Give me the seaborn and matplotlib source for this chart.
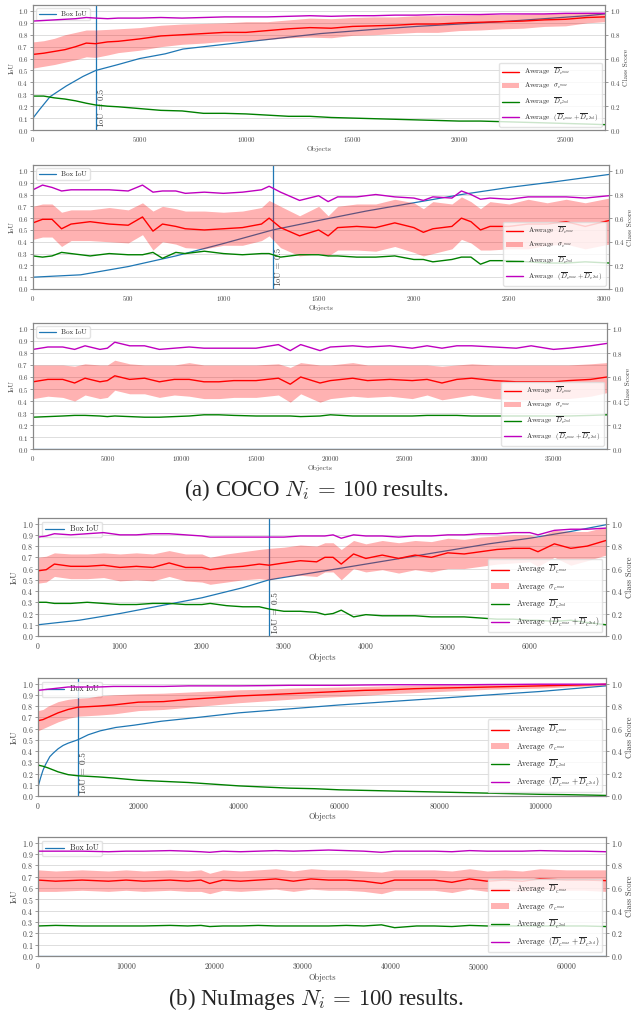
import numpy as np
import matplotlib
matplotlib.use("Agg")
import matplotlib.pyplot as plt
from matplotlib.lines import Line2D
from matplotlib.patches import Patch
import seaborn as sns

# ---- COCO, panel 1 ----
p1_box_x = [0, 300, 800, 1565, 2347, 2943, 4000, 5000, 6210, 7040, 10000, 13500, 16000, 18000, 20000, 22000, 24000, 26000, 26850]
p1_box = [0.10, 0.17, 0.28, 0.37, 0.45, 0.50, 0.55, 0.60, 0.64, 0.68, 0.74, 0.81, 0.845, 0.87, 0.89, 0.91, 0.935, 0.96, 0.975]
p1_x = [0, 500, 1000, 1500, 2000, 2500, 2943, 3500, 4000, 5000, 6000, 7000, 8000, 9000, 10000, 11000, 12000, 13000,
        14000, 15000, 16000, 17000, 18000, 19000, 20000, 21000, 22000, 23000, 24000, 25000, 26000, 26850]
p1_mean = [0.635, 0.645, 0.66, 0.675, 0.70, 0.73, 0.725, 0.74, 0.745, 0.765, 0.79, 0.80, 0.81, 0.82, 0.82, 0.835, 0.85, 0.86,
           0.855, 0.87, 0.875, 0.88, 0.89, 0.89, 0.90, 0.905, 0.91, 0.915, 0.925, 0.93, 0.945, 0.95]
p1_hi = [0.74, 0.75, 0.77, 0.80, 0.82, 0.84, 0.84, 0.845, 0.85, 0.86, 0.88, 0.89, 0.895, 0.90, 0.91, 0.91, 0.925, 0.94,
         0.935, 0.945, 0.95, 0.95, 0.96, 0.96, 0.965, 0.97, 0.97, 0.975, 0.98, 0.985, 0.99, 0.99]
p1_lo = [0.52, 0.535, 0.55, 0.57, 0.59, 0.615, 0.61, 0.63, 0.65, 0.67, 0.70, 0.72, 0.73, 0.745, 0.75, 0.76, 0.775, 0.78,
         0.775, 0.795, 0.80, 0.81, 0.82, 0.82, 0.835, 0.84, 0.85, 0.855, 0.87, 0.875, 0.90, 0.91]
p1_second = [0.285, 0.285, 0.27, 0.26, 0.245, 0.225, 0.21, 0.20, 0.195, 0.18, 0.165, 0.16, 0.14, 0.14, 0.135, 0.125, 0.115, 0.115,
             0.105, 0.10, 0.095, 0.09, 0.085, 0.08, 0.075, 0.075, 0.07, 0.065, 0.06, 0.055, 0.05, 0.045]
p1_sum = [0.915, 0.92, 0.925, 0.93, 0.935, 0.945, 0.94, 0.935, 0.94, 0.94, 0.945, 0.94, 0.945, 0.95, 0.95, 0.95, 0.955, 0.96,
          0.955, 0.96, 0.96, 0.965, 0.965, 0.97, 0.97, 0.97, 0.975, 0.975, 0.975, 0.98, 0.98, 0.98]

# ---- COCO, panel 2 ----
p2_box_x = [0, 250, 500, 750, 1000, 1259, 1500, 1750, 2000, 2250, 2500, 2750, 3025]
p2_box = [0.10, 0.12, 0.19, 0.28, 0.385, 0.50, 0.58, 0.66, 0.73, 0.80, 0.86, 0.91, 0.97]
p2_x = [0, 50, 100, 150, 200, 300, 400, 500, 575, 630, 680, 750, 800, 900, 1000, 1100, 1200, 1240, 1300, 1400,
        1500, 1550, 1600, 1700, 1800, 1900, 2000, 2050, 2100, 2200, 2250, 2300, 2350, 2400, 2500, 2600, 2700, 2800, 2900, 3025]
p2_mean = [0.56, 0.59, 0.59, 0.51, 0.55, 0.57, 0.55, 0.54, 0.61, 0.49, 0.55, 0.53, 0.51, 0.50, 0.51, 0.52, 0.55, 0.60, 0.52, 0.45,
           0.50, 0.45, 0.52, 0.53, 0.52, 0.56, 0.52, 0.48, 0.51, 0.53, 0.60, 0.57, 0.50, 0.53, 0.53, 0.55, 0.55, 0.57, 0.53, 0.58]
p2_hi = [0.70, 0.72, 0.72, 0.65, 0.67, 0.67, 0.69, 0.67, 0.73, 0.66, 0.70, 0.68, 0.66, 0.66, 0.65, 0.66, 0.69, 0.75, 0.70, 0.62,
         0.70, 0.62, 0.70, 0.72, 0.72, 0.76, 0.73, 0.68, 0.74, 0.72, 0.78, 0.74, 0.68, 0.74, 0.72, 0.76, 0.73, 0.76, 0.73, 0.77]
p2_lo = [0.42, 0.44, 0.44, 0.36, 0.41, 0.41, 0.40, 0.39, 0.46, 0.33, 0.40, 0.38, 0.35, 0.34, 0.37, 0.37, 0.41, 0.45, 0.35, 0.28,
         0.30, 0.28, 0.33, 0.33, 0.32, 0.36, 0.31, 0.28, 0.30, 0.34, 0.42, 0.39, 0.33, 0.33, 0.34, 0.34, 0.37, 0.38, 0.34, 0.38]
p2_second = [0.28, 0.27, 0.28, 0.31, 0.30, 0.28, 0.30, 0.29, 0.29, 0.31, 0.26, 0.31, 0.30, 0.32, 0.30, 0.29, 0.30, 0.30, 0.27, 0.29,
             0.29, 0.28, 0.28, 0.27, 0.27, 0.28, 0.25, 0.25, 0.23, 0.25, 0.27, 0.27, 0.21, 0.24, 0.24, 0.23, 0.22, 0.22, 0.23, 0.22]
p2_sum = [0.84, 0.88, 0.86, 0.83, 0.84, 0.84, 0.84, 0.83, 0.88, 0.82, 0.83, 0.83, 0.81, 0.82, 0.81, 0.82, 0.84, 0.87, 0.82, 0.75,
          0.79, 0.74, 0.78, 0.78, 0.80, 0.78, 0.77, 0.75, 0.78, 0.77, 0.83, 0.80, 0.76, 0.77, 0.76, 0.78, 0.78, 0.78, 0.77, 0.79]

# ---- COCO, panel 3 ----
p3_box_x = [0, 38600]
p3_box = [0.0, 0.0]
p3_x = [0, 1000, 2000, 2800, 3500, 4500, 5000, 5500, 6500, 7500, 8500, 9500, 10500, 11500, 12500, 13500, 15000, 16500, 17300,
        18000, 19300, 20000, 21500, 22500, 24000, 25500, 26500, 27500, 28500, 29500, 31000, 32500, 33500, 35000, 36000, 37500, 38600]
p3_mean = [0.56, 0.58, 0.58, 0.55, 0.59, 0.56, 0.57, 0.61, 0.58, 0.59, 0.56, 0.58, 0.58, 0.56, 0.56, 0.57, 0.57, 0.59, 0.54,
           0.60, 0.55, 0.57, 0.59, 0.57, 0.58, 0.57, 0.58, 0.55, 0.58, 0.59, 0.57, 0.56, 0.56, 0.56, 0.57, 0.58, 0.60]
p3_hi = [0.70, 0.70, 0.70, 0.69, 0.71, 0.70, 0.70, 0.74, 0.71, 0.70, 0.70, 0.70, 0.72, 0.70, 0.70, 0.70, 0.70, 0.71, 0.68,
         0.72, 0.70, 0.70, 0.72, 0.70, 0.70, 0.70, 0.70, 0.69, 0.70, 0.71, 0.70, 0.70, 0.70, 0.70, 0.70, 0.71, 0.72]
p3_lo = [0.42, 0.44, 0.43, 0.40, 0.45, 0.42, 0.43, 0.49, 0.46, 0.46, 0.43, 0.45, 0.44, 0.42, 0.42, 0.43, 0.43, 0.45, 0.39,
         0.46, 0.39, 0.42, 0.44, 0.43, 0.44, 0.42, 0.45, 0.41, 0.43, 0.45, 0.42, 0.41, 0.41, 0.42, 0.42, 0.44, 0.47]
p3_second = [0.265, 0.27, 0.275, 0.28, 0.28, 0.275, 0.27, 0.275, 0.27, 0.265, 0.265, 0.27, 0.275, 0.285, 0.285, 0.28, 0.275, 0.275, 0.275,
             0.27, 0.275, 0.285, 0.275, 0.275, 0.275, 0.275, 0.28, 0.28, 0.28, 0.275, 0.275, 0.275, 0.275, 0.275, 0.275, 0.28, 0.285]
p3_sum = [0.83, 0.85, 0.85, 0.83, 0.86, 0.83, 0.84, 0.89, 0.86, 0.86, 0.83, 0.84, 0.85, 0.84, 0.84, 0.84, 0.84, 0.87, 0.82,
          0.87, 0.82, 0.85, 0.86, 0.85, 0.86, 0.84, 0.86, 0.84, 0.86, 0.86, 0.85, 0.84, 0.86, 0.83, 0.84, 0.86, 0.88]

# ---- NuImages, panel 4 ----
p4_box_x = [0, 500, 1000, 1500, 2000, 2500, 2820, 3500, 4000, 4500, 5000, 5500, 6000, 6500, 6930]
p4_box = [0.10, 0.14, 0.20, 0.27, 0.34, 0.43, 0.50, 0.58, 0.64, 0.70, 0.76, 0.82, 0.87, 0.93, 0.99]
p4_x = [0, 100, 200, 400, 600, 800, 1000, 1200, 1400, 1600, 1800, 2000, 2100, 2300, 2500, 2700, 2820, 3000, 3200, 3400,
        3500, 3600, 3700, 3850, 4000, 4200, 4400, 4600, 4800, 5000, 5200, 5400, 5600, 5800, 6000, 6100, 6300, 6500, 6700, 6930]
p4_mean = [0.58, 0.59, 0.64, 0.62, 0.62, 0.63, 0.61, 0.62, 0.61, 0.65, 0.61, 0.61, 0.59, 0.61, 0.62, 0.64, 0.63, 0.65, 0.67, 0.66,
           0.70, 0.70, 0.64, 0.73, 0.69, 0.72, 0.69, 0.72, 0.70, 0.74, 0.73, 0.75, 0.77, 0.78, 0.78, 0.75, 0.82, 0.78, 0.80, 0.85]
p4_hi = [0.70, 0.71, 0.74, 0.73, 0.73, 0.74, 0.73, 0.74, 0.73, 0.76, 0.73, 0.73, 0.70, 0.73, 0.75, 0.77, 0.78, 0.79, 0.81, 0.80,
         0.83, 0.83, 0.77, 0.85, 0.82, 0.85, 0.83, 0.85, 0.84, 0.87, 0.86, 0.88, 0.89, 0.90, 0.90, 0.88, 0.94, 0.93, 0.93, 0.97]
p4_lo = [0.47, 0.48, 0.53, 0.51, 0.51, 0.52, 0.49, 0.50, 0.49, 0.53, 0.49, 0.48, 0.46, 0.48, 0.50, 0.51, 0.50, 0.53, 0.54, 0.53,
         0.57, 0.57, 0.50, 0.60, 0.57, 0.59, 0.56, 0.59, 0.57, 0.60, 0.60, 0.62, 0.64, 0.65, 0.66, 0.62, 0.70, 0.63, 0.67, 0.72]
p4_second = [0.30, 0.30, 0.29, 0.29, 0.30, 0.29, 0.28, 0.28, 0.29, 0.29, 0.28, 0.28, 0.29, 0.27, 0.26, 0.26, 0.24, 0.22, 0.22, 0.21,
             0.19, 0.20, 0.23, 0.17, 0.19, 0.18, 0.18, 0.18, 0.17, 0.17, 0.17, 0.16, 0.15, 0.15, 0.14, 0.14, 0.13, 0.14, 0.12, 0.10]
p4_sum = [0.88, 0.89, 0.91, 0.90, 0.91, 0.92, 0.90, 0.90, 0.91, 0.91, 0.90, 0.89, 0.88, 0.88, 0.88, 0.88, 0.88, 0.88, 0.89, 0.89,
          0.89, 0.90, 0.87, 0.90, 0.89, 0.89, 0.88, 0.89, 0.89, 0.90, 0.90, 0.91, 0.91, 0.92, 0.92, 0.90, 0.94, 0.95, 0.95, 0.96]

# ---- NuImages, panel 5 ----
p5_box_x = [0, 250, 500, 1000, 1500, 2350, 3000, 4000, 5000, 6000, 7920, 10000, 12400, 15500, 19100, 24500,
            32000, 40000, 50000, 60000, 70000, 80000, 90000, 100000, 113100]
p5_box = [0.08, 0.12, 0.16, 0.23, 0.28, 0.35, 0.38, 0.42, 0.45, 0.47, 0.50, 0.545, 0.58, 0.61, 0.63, 0.665,
          0.70, 0.74, 0.775, 0.81, 0.84, 0.87, 0.90, 0.93, 0.98]
p5_x = [0, 1000, 2000, 4000, 6000, 7920, 10000, 12000, 15000, 20000, 25000, 30000, 35000, 40000, 45000, 50000, 55000,
        60000, 65000, 70000, 75000, 80000, 85000, 90000, 95000, 100000, 105000, 110000, 113100]
p5_mean = [0.67, 0.68, 0.70, 0.74, 0.77, 0.79, 0.795, 0.80, 0.81, 0.835, 0.84, 0.86, 0.875, 0.89, 0.90, 0.91, 0.92,
           0.93, 0.94, 0.945, 0.955, 0.96, 0.965, 0.97, 0.975, 0.98, 0.985, 0.99, 0.995]
p5_hi = [0.76, 0.77, 0.80, 0.84, 0.86, 0.87, 0.875, 0.89, 0.90, 0.91, 0.915, 0.925, 0.935, 0.945, 0.95, 0.96, 0.965,
         0.97, 0.975, 0.98, 0.985, 0.99, 0.99, 0.995, 0.995, 1.0, 1.0, 1.0, 1.0]
p5_lo = [0.58, 0.60, 0.62, 0.66, 0.69, 0.71, 0.715, 0.72, 0.73, 0.76, 0.77, 0.79, 0.81, 0.83, 0.845, 0.86, 0.875,
         0.885, 0.895, 0.91, 0.92, 0.93, 0.94, 0.95, 0.955, 0.96, 0.97, 0.98, 0.985]
p5_second = [0.275, 0.265, 0.25, 0.215, 0.19, 0.18, 0.175, 0.17, 0.16, 0.14, 0.13, 0.12, 0.105, 0.09, 0.08, 0.07, 0.065,
             0.055, 0.05, 0.045, 0.04, 0.035, 0.03, 0.025, 0.02, 0.015, 0.012, 0.008, 0.005]
p5_sum = [0.94, 0.945, 0.95, 0.96, 0.97, 0.97, 0.97, 0.97, 0.975, 0.975, 0.975, 0.98, 0.98, 0.98, 0.982, 0.985, 0.985,
          0.985, 0.988, 0.99, 0.99, 0.99, 0.99, 0.992, 0.993, 0.995, 0.995, 0.995, 0.995]

# ---- NuImages, panel 6 ----
p6_box_x = [0, 64500]
p6_box = [0.0, 0.0]
p6_x = [0, 2000, 5000, 8000, 10000, 12000, 15000, 17000, 18500, 19500, 21000, 23000, 25000, 27000, 29000, 31000,
        33000, 35000, 37000, 39000, 40500, 43000, 45000, 47000, 49000, 51000, 53000, 55000, 57000, 60000, 62000, 64500]
p6_mean = [0.67, 0.66, 0.67, 0.66, 0.67, 0.66, 0.67, 0.66, 0.67, 0.64, 0.67, 0.66, 0.67, 0.68, 0.66, 0.68,
           0.67, 0.67, 0.66, 0.64, 0.67, 0.67, 0.67, 0.65, 0.68, 0.66, 0.67, 0.66, 0.68, 0.67, 0.67, 0.665]
p6_hi = [0.76, 0.75, 0.76, 0.75, 0.76, 0.75, 0.76, 0.75, 0.76, 0.73, 0.76, 0.75, 0.76, 0.77, 0.75, 0.77,
         0.76, 0.76, 0.75, 0.74, 0.76, 0.76, 0.76, 0.75, 0.77, 0.75, 0.76, 0.75, 0.77, 0.76, 0.76, 0.76]
p6_lo = [0.57, 0.57, 0.58, 0.57, 0.58, 0.57, 0.58, 0.57, 0.57, 0.55, 0.58, 0.57, 0.58, 0.59, 0.57, 0.59,
         0.58, 0.58, 0.57, 0.55, 0.58, 0.58, 0.58, 0.56, 0.59, 0.57, 0.58, 0.57, 0.59, 0.58, 0.58, 0.57]
p6_second = [0.265, 0.27, 0.265, 0.265, 0.265, 0.265, 0.27, 0.265, 0.27, 0.26, 0.265, 0.265, 0.27, 0.265, 0.265, 0.265,
             0.265, 0.27, 0.265, 0.275, 0.25, 0.265, 0.265, 0.26, 0.27, 0.265, 0.265, 0.265, 0.265, 0.265, 0.265, 0.26]
p6_sum = [0.925, 0.925, 0.925, 0.92, 0.925, 0.925, 0.93, 0.925, 0.92, 0.915, 0.925, 0.92, 0.925, 0.93, 0.925, 0.93,
          0.935, 0.93, 0.925, 0.915, 0.925, 0.925, 0.925, 0.92, 0.93, 0.925, 0.925, 0.925, 0.93, 0.925, 0.925, 0.92]

x_max = [26850, 3025, 38600, 6930, 113100, 64500]
iou_half = [2943, 1259, None, 2820, 7920, None]
x_steps = [5000, 500, 5000, 1000, 20000, 10000]

captions = [r"(a) COCO $N_i\,=\,100$ results.", r"(b) NuImages $N_i\,=\,100$ results."]
legend_labels = [r"Average  $\overline{D}_{c^{max}}$", r"Average  $\sigma_{c^{max}}$",
                 r"Average  $\overline{D}_{c^{2nd}}$", r"Average  $(\overline{D}_{c^{max}} + \overline{D}_{c^{2nd}})$"]

# pixel boxes: left, top, right, bottom
boxes = [(33, 5, 605, 130), (33, 165, 609, 289), (33, 323, 607, 449),
         (38, 518, 606, 636), (38, 678, 606, 796), (38, 837, 606, 956)]

W, H = 632, 1015
sns.set_style("whitegrid")
plt.rcParams["font.family"] = ["cmr10", "DejaVu Serif"]
plt.rcParams["mathtext.fontset"] = "cm"
plt.rcParams["axes.unicode_minus"] = False
plt.rcParams["axes.formatter.use_mathtext"] = True

fig = plt.figure(figsize=(W / 100, H / 100), dpi=100)

panels = [
    (p1_box_x, p1_box, p1_x, p1_mean, p1_hi, p1_lo, p1_second, p1_sum),
    (p2_box_x, p2_box, p2_x, p2_mean, p2_hi, p2_lo, p2_second, p2_sum),
    (p3_box_x, p3_box, p3_x, p3_mean, p3_hi, p3_lo, p3_second, p3_sum),
    (p4_box_x, p4_box, p4_x, p4_mean, p4_hi, p4_lo, p4_second, p4_sum),
    (p5_box_x, p5_box, p5_x, p5_mean, p5_hi, p5_lo, p5_second, p5_sum),
    (p6_box_x, p6_box, p6_x, p6_mean, p6_hi, p6_lo, p6_second, p6_sum),
]

edge = "#888888"
txt = "#444444"
blue = "#1f77b4"

for i, (bx, by, x, mean, hi, lo, second, total) in enumerate(panels):
    fs = 5.0 if i < 3 else 5.6
    l, t, r, b = boxes[i]
    ax = fig.add_axes([l / W, 1 - b / H, (r - l) / W, (b - t) / H])
    sns.lineplot(x=bx, y=by, ax=ax, color=blue, lw=0.9, label="Box IoU")
    if iou_half[i] is not None:
        ax.axvline(iou_half[i], color=blue, lw=0.9)
        ax.text(iou_half[i] + x_max[i] * 0.004, 0.03, "IoU = 0.5", rotation=90,
                fontsize=fs + 1.2, color=txt, ha="left", va="bottom")
    ax.set_xlim(0, x_max[i])
    ax.set_ylim(0, 1.05)
    ax.set_yticks(np.round(np.arange(0, 1.01, 0.1), 1))
    ax.set_xticks(np.arange(0, x_max[i], x_steps[i]))
    ax.grid(axis="x", visible=False)
    ax.grid(axis="y", color="#dddddd", lw=0.7)
    ax.set_xlabel("Objects", fontsize=fs + 0.4, color=txt, labelpad=1.5)
    ax.set_ylabel("IoU", fontsize=fs + 0.4, color=txt, labelpad=2)
    ax.legend(loc="upper left", fontsize=fs, frameon=True, edgecolor="#dddddd",
              handlelength=2.4, borderpad=0.4)

    ax2 = ax.twinx()
    ax2.fill_between(x, lo, hi, color="red", alpha=0.3, lw=0)
    sns.lineplot(x=x, y=mean, ax=ax2, color="red", lw=1.0)
    sns.lineplot(x=x, y=second, ax=ax2, color="green", lw=1.0)
    sns.lineplot(x=x, y=total, ax=ax2, color="m", lw=1.0)
    ax2.set_ylim(0, 1.05)
    ax2.set_yticks(np.round(np.arange(0, 1.01, 0.2), 1))
    ax2.grid(False)
    ax2.set_ylabel("Class Score", fontsize=fs + 0.4, color=txt, labelpad=2)
    handles = [Line2D([], [], color="red", lw=1), Patch(color="red", alpha=0.3, lw=0),
               Line2D([], [], color="green", lw=1), Line2D([], [], color="m", lw=1)]
    ax2.legend(handles, legend_labels, loc="lower right", fontsize=fs, frameon=True,
               edgecolor="#dddddd", labelspacing=0.55, handlelength=2.4, borderpad=0.4)

    for a in (ax, ax2):
        for s in a.spines.values():
            s.set_color(edge)
            s.set_linewidth(0.8)
        a.tick_params(labelsize=fs, colors=txt, length=2, width=0.6, pad=1.5)
        a.tick_params(axis="both", color=edge)

fig.text(0.5, 1 - 490 / H, captions[0], ha="center", va="center",
         fontsize=16.5, family=["Liberation Serif", "DejaVu Serif"])
fig.text(0.5, 1 - 999 / H, captions[1], ha="center", va="center",
         fontsize=16.5, family=["Liberation Serif", "DejaVu Serif"])

fig.savefig("out.png", dpi=100)
